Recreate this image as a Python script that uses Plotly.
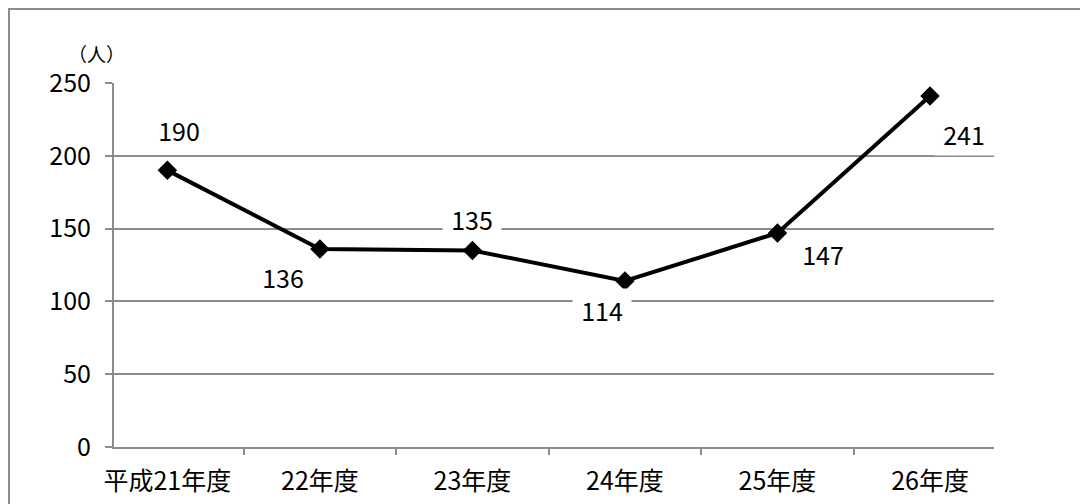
import plotly.graph_objects as go

categories = ["平成21年度", "22年度", "23年度", "24年度", "25年度", "26年度"]
values = [190, 136, 135, 114, 147, 241]
y_ticks = [0, 50, 100, 150, 200, 250]
unit_label = "（人）"
# label offsets in pixels (xshift, yshift)
label_shifts = [(12, 40), (-37, -28), (0, 31), (-23, -29), (46, -21), (34, -38)]

FONT = "Noto Sans CJK JP"
GRID = "#8c8c8c"

fig = go.Figure()
fig.add_trace(go.Scatter(
    x=categories, y=values, mode="lines+markers",
    line=dict(color="black", width=4),
    marker=dict(symbol="diamond", size=15, color="black"),
    hoverinfo="skip", showlegend=False,
))

annotations = []
for c, v, (dx, dy) in zip(categories, values, label_shifts):
    annotations.append(dict(
        x=c, y=v, xref="x", yref="y", text=str(v), showarrow=False,
        xanchor="center", yanchor="middle",
        xshift=dx, yshift=dy, bgcolor="white", borderpad=3, width=52,
        font=dict(family=FONT, size=25, color="black"),
    ))
annotations.append(dict(
    x=-0.02, y=1.08, xref="paper", yref="paper", text=unit_label,
    xanchor="center", yanchor="middle",
    showarrow=False, font=dict(family=FONT, size=19, color="black"),
))

fig.update_layout(
    width=1080, height=496,
    margin=dict(l=106, r=94, t=75, b=57, autoexpand=False),
    paper_bgcolor="white", plot_bgcolor="white",
    annotations=annotations,
    font=dict(family=FONT, size=25, color="black"),
    shapes=[dict(type="rect", xref="paper", yref="paper",
                 x0=-0.1193, y0=-0.4, x1=1.3, y1=1.2033,
                 line=dict(color=GRID, width=2), layer="below")],
    xaxis=dict(
        type="category", showline=True, linecolor=GRID, linewidth=2,
        ticks="outside", tickson="boundaries", ticklen=6, tickcolor=GRID, tickwidth=2,
        showgrid=False, ticklabelstandoff=11, fixedrange=True, automargin=False,
        tickfont=dict(family=FONT, size=25, color="black"),
    ),
    yaxis=dict(
        range=[0, 250], tickvals=y_ticks, showline=True, linecolor=GRID, linewidth=2,
        ticks="outside", ticklen=7, tickcolor=GRID, tickwidth=2,
        showgrid=True, gridcolor=GRID, gridwidth=2, zeroline=False,
        ticklabelstandoff=9, fixedrange=True, automargin=False,
        tickfont=dict(family=FONT, size=25, color="black"),
    ),
)

fig.write_html("out.html")
